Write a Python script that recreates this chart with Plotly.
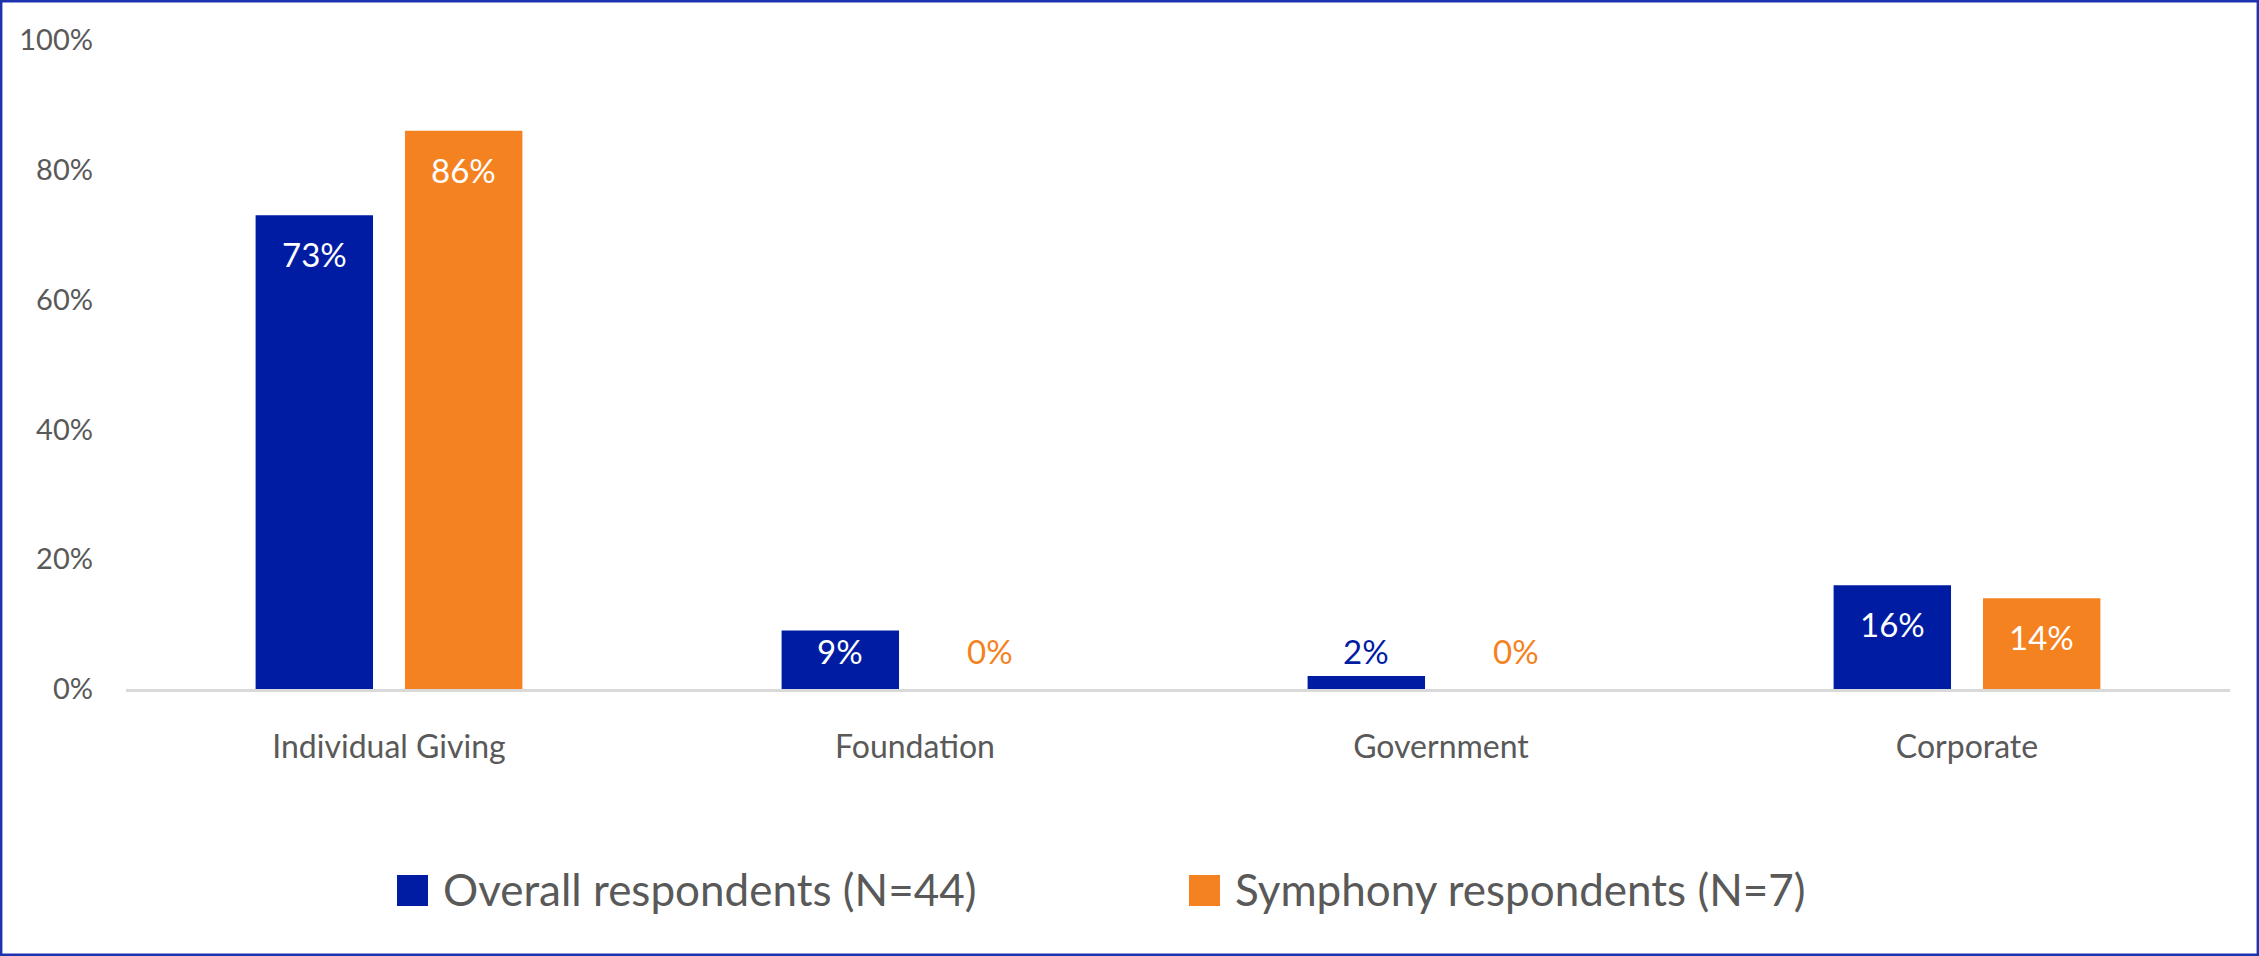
import plotly.graph_objects as go

# Source of contributed income by category
categories = ["Individual Giving", "Foundation", "Government", "Corporate"]
overall = [73, 9, 2, 16]
symphony = [86, 0, 0, 14]
series_names = ["Overall respondents (N=44)", "Symphony respondents (N=7)"]
y_ticks = [0, 20, 40, 60, 80, 100]
y_tick_labels = [f"{v}%" for v in y_ticks]

BLUE = "#001CA3"
ORANGE = "#F48221"
GRAY = "#595959"
FONT = "Lato"

W, H = 2259, 956
L, R, T, B = 126, 29, 40, 267
PW, PH = W - L - R, H - T - B


def px_x(px):
    return (px - L) / PW


def px_y(py):
    return (H - B - py) / PH


fig = go.Figure()
for name, vals, color in [(series_names[0], overall, BLUE), (series_names[1], symphony, ORANGE)]:
    fig.add_trace(go.Bar(
        x=categories, y=vals, name=name, marker=dict(color=color, line=dict(width=0)),
        showlegend=False, hoverinfo="skip",
    ))

# value labels: inside near the top of tall bars, just above the base for short ones
px_per_unit = PH / 100.0
annotations = []
for vals, color, shift in [(overall, BLUE, -74.75), (symphony, ORANGE, 74.75)]:
    for cat, v in zip(categories, vals):
        ly = max(v - 39 / px_per_unit, 38 / px_per_unit)
        inside = v > 7
        annotations.append(dict(
            x=cat, y=ly, xref="x", yref="y", xshift=shift, yanchor="middle",
            text=f"{v}%", showarrow=False,
            font=dict(family=FONT, size=33, color="white" if inside else color),
        ))

# legend drawn as swatches + text
shapes = []
for sx, name, color in [(397, series_names[0], BLUE), (1189, series_names[1], ORANGE)]:
    shapes.append(dict(type="rect", xref="paper", yref="paper",
                       x0=px_x(sx), x1=px_x(sx + 31), y0=px_y(906), y1=px_y(875),
                       fillcolor=color, line=dict(width=0)))
    annotations.append(dict(x=px_x(sx + 44), y=px_y(889), xref="paper", yref="paper",
                            xanchor="left", yanchor="middle", text=name, showarrow=False,
                            font=dict(family=FONT, size=44, color=GRAY)))

# outer frame
shapes.append(dict(type="rect", xref="paper", yref="paper",
                   x0=px_x(1.2), x1=px_x(2257.8), y0=px_y(954.8), y1=px_y(1.2),
                   line=dict(color="#1F33B0", width=2.4), fillcolor="rgba(0,0,0,0)", layer="above"))

fig.update_layout(
    width=W, height=H,
    margin=dict(l=L, r=R, t=T, b=B, autoexpand=False),
    paper_bgcolor="white", plot_bgcolor="white",
    barmode="group", bargap=0.432, bargroupgap=0.214,
    showlegend=False,
    font=dict(family=FONT, color=GRAY),
    annotations=annotations, shapes=shapes,
    xaxis=dict(
        showline=True, linecolor="#D9D9D9", linewidth=2.5, showgrid=False,
        tickfont=dict(family=FONT, size=32, color=GRAY), ticklabelstandoff=28,
        fixedrange=True,
    ),
    yaxis=dict(
        range=[0, 100], tickmode="array", tickvals=y_ticks, ticktext=y_tick_labels,
        showgrid=False, zeroline=False, showline=False,
        tickfont=dict(family=FONT, size=29, color=GRAY), ticklabelstandoff=32,
        fixedrange=True,
    ),
)

fig.write_html("out.html")
